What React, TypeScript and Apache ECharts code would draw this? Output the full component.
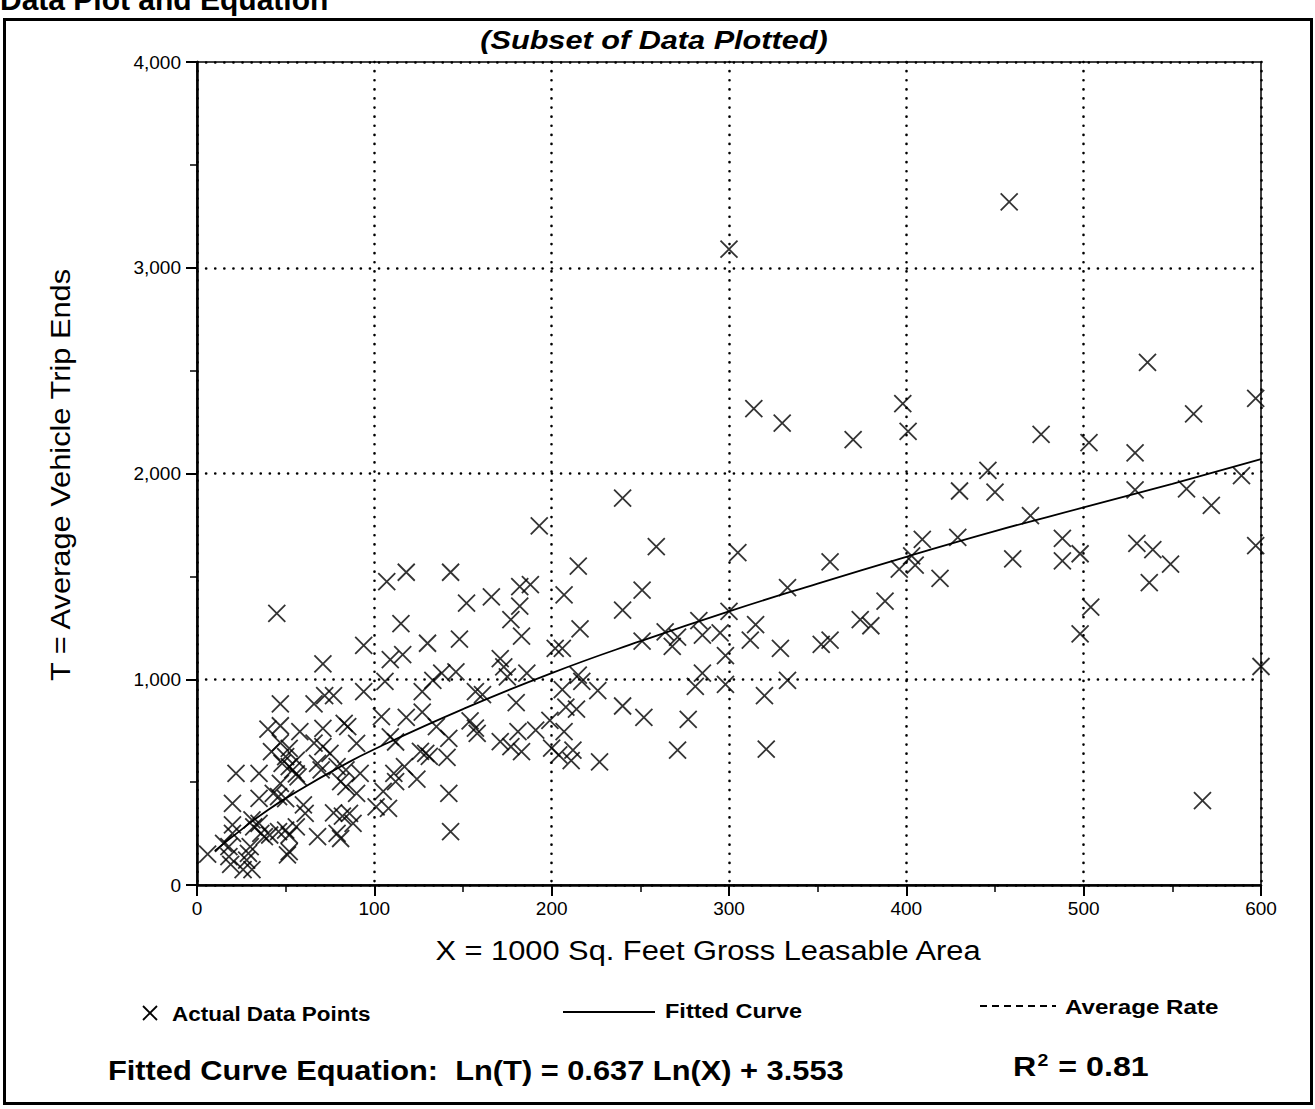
import React, { useEffect, useRef } from "react";
import * as echarts from "echarts";

// Actual data points: X = 1000 sq. ft GLA, T = average vehicle trip ends
const areaX = [
  6, 15, 18, 18, 19, 20, 20, 20, 22, 26, 31, 28, 29, 30, 31, 32, 35, 35, 35, 36,
  38, 40, 41, 42, 43, 45, 46, 46, 47, 47, 47, 47, 48, 50, 50, 50, 51, 52, 52, 52,
  52, 54, 56, 56, 56, 57, 58, 60, 61, 66, 66, 68, 68, 70, 71, 71, 71, 72, 75, 77,
  77, 79, 79, 81, 81, 82, 83, 84, 84, 85, 86, 88, 90, 90, 92, 94, 94,
  101, 104, 105, 106, 107, 108, 109, 109, 111, 112, 112, 115, 116, 117, 118, 118, 124, 126, 127, 127,
  129, 130, 131, 133, 135, 138, 141, 142, 142, 143, 143, 146, 148, 152, 154, 157, 157, 158, 161, 166,
  171, 171, 173, 175, 177, 177, 180, 181, 182, 182, 183, 183, 186, 188, 191, 193,
  199, 200, 202, 204, 206, 206, 207, 207, 208, 211, 212, 214, 215, 215, 216, 217, 226, 227, 240, 240,
  240, 251, 251, 252, 259, 264, 268, 271, 271, 277, 283, 281, 285, 285, 295, 298, 298, 300, 300,
  305, 312, 314, 315, 320, 321, 329, 330, 333, 333, 352, 357, 357, 370, 374, 380, 388, 396, 398, 401,
  403, 405, 409, 419, 429, 430, 446, 450, 458, 460, 470, 476, 488, 488, 498, 498, 503, 504,
  529, 529, 530, 537, 536, 539, 549, 558, 562, 567, 572, 589, 597, 597, 600,
];
const tripEnds = [
  150, 202, 186, 138, 100, 251, 292, 397, 542, 75, 75, 121, 154, 186, 316, 283, 300, 421, 542, 251,
  235, 758, 243, 648, 445, 1320, 259, 430, 880, 774, 691, 494, 591, 420, 267, 624, 146, 162, 243, 575,
  664, 559, 607, 283, 540, 526, 745, 389, 348, 880, 690, 591, 235, 559, 1075, 761, 672, 920, 640, 920,
  350, 575, 251, 502, 226, 335, 786, 559, 478, 770, 348, 300, 688, 445, 542, 1165, 940,
  380, 818, 455, 990, 1475, 372, 1095, 720, 543, 502, 695, 1270, 1120, 575, 1520, 815, 515, 650, 940, 840,
  640, 1175, 625, 995, 770, 1030, 620, 713, 445, 1520, 259, 1036, 1195, 1370, 798, 940, 762, 737, 925, 1400,
  1100, 697, 1060, 1012, 1290, 672, 886, 745, 1450, 1355, 1210, 648, 1030, 1460, 753, 1745,
  800, 665, 1150, 632, 1150, 950, 1410, 745, 865, 605, 656, 855, 1550, 1020, 1245, 990, 945, 598, 1880, 870,
  1336, 1433, 1185, 815, 1645, 1230, 1160, 1205, 655, 805, 1285, 965, 1030, 1215, 1225, 1115, 975, 1330, 3090,
  1615, 1190, 2315, 1265, 920, 660, 1150, 2245, 1445, 995, 1170, 1570, 1190, 2165, 1290, 1260, 1380, 1535, 2340, 2205,
  1600, 1555, 1680, 1490, 1690, 1915, 2015, 1910, 3320, 1585, 1795, 2190, 1685, 1575, 1610, 1220, 2150, 1350,
  2100, 1920, 1660, 1470, 2540, 1630, 1560, 1925, 2290, 410, 1845, 1990, 2365, 1650, 1062,
];

// Fitted curve
const curveX = [10, 20, 40, 60, 80, 100, 150, 200, 250, 300, 350, 400, 450, 500, 550, 600];
const curveT = [165, 235, 365, 473, 571, 660, 855, 1030, 1185, 1330, 1465, 1595, 1720, 1835, 1950, 2070];

const xAxisMax = 600;
const yAxisMax = 4000;
const xStep = 100;
const yStep = 1000;

const FONT = "'Liberation Sans', Arial, Helvetica, sans-serif";

export default function App() {
  const ref = useRef<HTMLDivElement>(null);

  useEffect(() => {
    if (!ref.current) return;
    const chart = echarts.init(ref.current, undefined, { renderer: "svg" });

    const points = areaX.map((x, i) => [x, tripEnds[i]]);
    const curve = curveX.map((x, i) => [x, curveT[i]]);

    const dotted = { color: "#000", width: 2.6, type: [0.1, 9] as any, cap: "round" as any };

    const legendText = (text: string, x: number, y: number, sx: number) => ({
      type: "text",
      x,
      y,
      scaleX: sx,
      style: { text, font: `bold 21px ${FONT}`, fill: "#000", verticalAlign: "middle" },
    });

    chart.setOption({
      animation: false,
      backgroundColor: "#fff",
      grid: {
        left: 197,
        right: 54,
        top: 62,
        bottom: 224,
        show: true,
        borderColor: "#000",
        borderWidth: 1.5,
        backgroundColor: "transparent",
      },
      xAxis: {
        type: "value",
        min: 0,
        max: xAxisMax,
        interval: xStep,
        axisLine: { show: true, lineStyle: { color: "#000", width: 2.5 } },
        axisTick: { show: true, length: 11, lineStyle: { color: "#000", width: 2 } },
        minorTick: { show: true, splitNumber: 2, length: 7, lineStyle: { color: "#000", width: 1.5 } },
        axisLabel: { fontFamily: FONT, fontSize: 19, color: "#000", margin: 14 },
        splitLine: { show: true, lineStyle: dotted },
      },
      yAxis: {
        type: "value",
        min: 0,
        max: yAxisMax,
        interval: yStep,
        axisLine: { show: true, lineStyle: { color: "#000", width: 2.5 } },
        axisTick: { show: true, length: 11, lineStyle: { color: "#000", width: 2 } },
        minorTick: { show: true, splitNumber: 2, length: 7, lineStyle: { color: "#000", width: 1.5 } },
        axisLabel: {
          fontFamily: FONT,
          fontSize: 19,
          color: "#000",
          margin: 16,
          formatter: (v: number) => v.toLocaleString("en-US"),
        },
        splitLine: { show: true, lineStyle: dotted },
      },
      series: [
        {
          name: "Actual Data Points",
          type: "scatter",
          data: points,
          symbol: "path://M0,0L10,10M10,0L0,10",
          symbolSize: 17,
          itemStyle: { color: "none", borderColor: "#000", borderWidth: 1.8 },
          z: 3,
        },
        {
          name: "Fitted Curve",
          type: "line",
          data: curve,
          smooth: true,
          showSymbol: false,
          lineStyle: { color: "#000", width: 1.8 },
          z: 4,
        },
      ],
      graphic: [
        {
          type: "text",
          x: 0,
          y: 14,
          style: {
            text: "Data Plot and Equation",
            font: `bold 30px ${FONT}`,
            fill: "#000",
            verticalAlign: "bottom",
          },
        },
        {
          type: "rect",
          shape: { x: 4.5, y: 19.5, width: 1307, height: 1084 },
          style: { fill: "none", stroke: "#000", lineWidth: 3 },
        },
        {
          type: "text",
          x: 654,
          y: 40,
          scaleX: 1.18,
          style: {
            text: "(Subset of Data Plotted)",
            font: `italic bold 26px ${FONT}`,
            fill: "#000",
            align: "center",
            verticalAlign: "middle",
          },
        },
        // axis titles
        {
          type: "text",
          x: 708,
          y: 950,
          scaleX: 1.1,
          style: {
            text: "X = 1000 Sq. Feet Gross Leasable Area",
            font: `28px ${FONT}`,
            fill: "#000",
            align: "center",
            verticalAlign: "middle",
          },
        },
        {
          type: "text",
          x: 60,
          y: 475,
          rotation: Math.PI / 2,
          scaleX: 1.1,
          style: {
            text: "T = Average Vehicle Trip Ends",
            font: `28px ${FONT}`,
            fill: "#000",
            align: "center",
            verticalAlign: "middle",
          },
        },
        // legend: actual data points
        {
          type: "group",
          x: 150,
          y: 1013,
          children: [
            { type: "line", shape: { x1: -7, y1: -7, x2: 7, y2: 7 }, style: { stroke: "#000", lineWidth: 1.8 } },
            { type: "line", shape: { x1: 7, y1: -7, x2: -7, y2: 7 }, style: { stroke: "#000", lineWidth: 1.8 } },
          ],
        },
        legendText("Actual Data Points", 172, 1014, 1.07),
        // legend: fitted curve
        {
          type: "line",
          shape: { x1: 563, y1: 1012, x2: 655, y2: 1012 },
          style: { stroke: "#000", lineWidth: 2 },
        },
        legendText("Fitted Curve", 665, 1011, 1.12),
        // legend: average rate
        {
          type: "line",
          shape: { x1: 980, y1: 1006, x2: 1056, y2: 1006 },
          style: { stroke: "#000", lineWidth: 1.8, lineDash: [7, 5] },
        },
        legendText("Average Rate", 1065, 1007, 1.15),
        // equation
        {
          type: "text",
          x: 108,
          y: 1070,
          scaleX: 1.1,
          style: {
            text: "Fitted Curve Equation:  Ln(T) = 0.637 Ln(X) + 3.553",
            font: `bold 28px ${FONT}`,
            fill: "#000",
            verticalAlign: "middle",
          },
        },
        {
          type: "text",
          x: 1013,
          y: 1066,
          scaleX: 1.15,
          style: {
            text: "{b|R}{s|2}{b| = 0.81}",
            rich: {
              b: { font: `bold 28px ${FONT}`, fill: "#000", verticalAlign: "bottom" },
              s: { font: `bold 17px ${FONT}`, fill: "#000", verticalAlign: "top", padding: [0, 1, 12, 1] },
            },
            verticalAlign: "middle",
          },
        },
      ],
    });

    return () => chart.dispose();
  }, []);

  return (
    <div
      ref={ref}
      style={{ position: "absolute", left: 0, top: 0, width: 1315, height: 1109, background: "#fff" }}
    />
  );
}
